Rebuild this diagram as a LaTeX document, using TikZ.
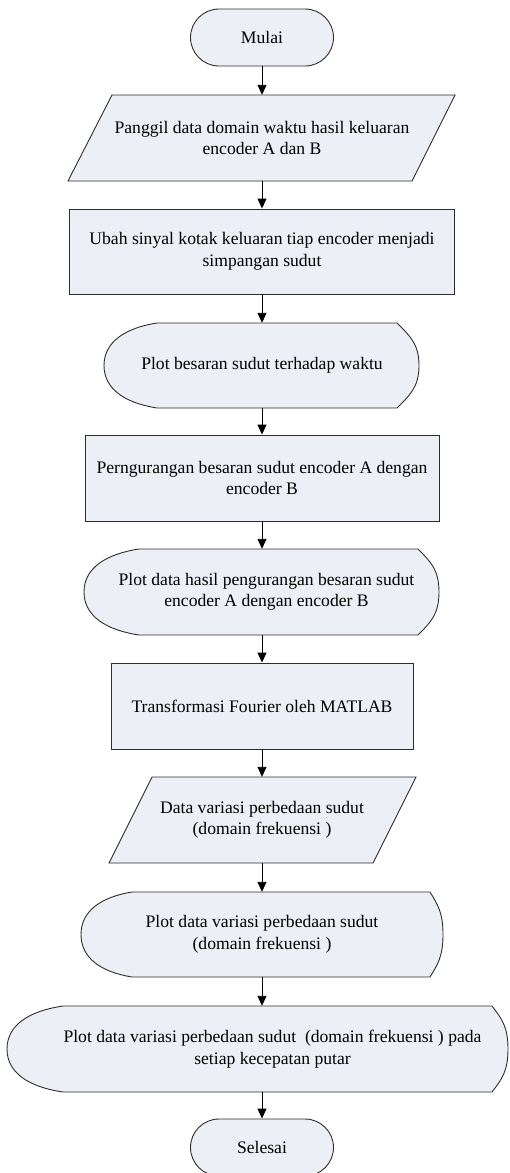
\documentclass[tikz,border=0pt]{standalone}
\usepackage{fontspec}
\setmainfont{Liberation Serif}
\usetikzlibrary{arrows.meta,shapes.misc}
\definecolor{shapefill}{RGB}{236,239,245}
\definecolor{shapeline}{RGB}{45,45,45}
\begin{document}
\begin{tikzpicture}[x=1pt,y=-1pt,
  outline/.style={draw=shapeline,fill=shapefill,line width=0.9pt,line join=miter},
  box/.style={draw=none,inner sep=0pt,align=center,font=\fontsize{17.6}{21.5}\selectfont},
  procbox/.style={box,outline,rectangle},
  termbox/.style={box,outline,rounded rectangle},
  flow/.style={draw=black,line width=0.9pt,-{Triangle[length=10pt,width=9pt]}}]
\useasboundingbox (0,0) rectangle (509,1173);

% outlines drawn directly
\draw[outline] (112,95) -- (455,95) -- (412,181) -- (68,181) -- cycle;
\draw[outline] (157,323) -- (397,323) .. controls (410,336) and (419,344) .. (419,365.5)
  .. controls (419,387) and (410,395) .. (397,408) -- (157,408)
  .. controls (125,403) and (104,389) .. (104,365.5)
  .. controls (104,342) and (125,328) .. (157,323) -- cycle;
\draw[outline] (139,549) -- (418,549) .. controls (431,562) and (439,570) .. (439,592)
  .. controls (439,614) and (431,622) .. (418,635) -- (139,635)
  .. controls (106,630) and (84,616) .. (84,592)
  .. controls (84,568) and (106,554) .. (139,549) -- cycle;
\draw[outline] (152,777) -- (416,777) -- (373,863) -- (109,863) -- cycle;
\draw[outline] (132,892) -- (430,892) .. controls (438,905) and (443,913) .. (443,934.5)
  .. controls (443,956) and (438,964) .. (430,977) -- (132,977)
  .. controls (101,972) and (81,958) .. (81,934.5)
  .. controls (81,911) and (101,897) .. (132,892) -- cycle;
\draw[outline] (63,1006) -- (492,1006) .. controls (502,1019) and (508,1027) .. (508,1049)
  .. controls (508,1071) and (502,1079) .. (492,1092) -- (63,1092)
  .. controls (29,1087) and (7,1073) .. (7,1049)
  .. controls (7,1025) and (29,1011) .. (63,1006) -- cycle;

% nodes
\node[termbox,minimum width=143pt,minimum height=57pt] (start) at (262,37.5) {Mulai};
\node[box,minimum width=300pt,minimum height=86pt] (p1) at (262,138)
  {Panggil data domain waktu hasil keluaran\\encoder A dan B};
\node[procbox,minimum width=385pt,minimum height=85pt] (r2) at (262,251.5)
  {Ubah sinyal kotak keluaran tiap encoder menjadi\\simpangan sudut};
\node[box,minimum width=300pt,minimum height=85pt] (d1) at (262,365.5)
  {Plot besaran sudut terhadap waktu};
\node[procbox,minimum width=354pt,minimum height=86pt] (r3) at (262,478)
  {Perngurangan besaran sudut encoder A dengan\\encoder B};
\node[box,minimum width=320pt,minimum height=86pt] (d2) at (262,592)
  {\hspace*{9pt}Plot data hasil pengurangan besaran sudut\\\hspace*{9pt}encoder A dengan encoder B};
\node[procbox,minimum width=302pt,minimum height=86pt] (r4) at (262,706)
  {Transformasi Fourier oleh MATLAB};
\node[box,minimum width=240pt,minimum height=86pt] (p2) at (262,820)
  {Data variasi perbedaan sudut\\(domain frekuensi )};
\node[box,minimum width=300pt,minimum height=85pt] (d3) at (262,934.5)
  {Plot data variasi perbedaan sudut\\(domain frekuensi )};
\node[box,minimum width=460pt,minimum height=86pt] (d4) at (262,1049)
  {\hspace*{21pt}Plot data variasi perbedaan sudut\ \ (domain frekuensi ) pada\\\hspace*{21pt}setiap kecepatan putar};
\node[termbox,minimum width=143pt,minimum height=57pt] (stop) at (262,1147.5) {Selesai};

% connectors
\draw[flow] (start.south) -- (p1.north);
\draw[flow] (p1.south) -- (r2.north);
\draw[flow] (r2.south) -- (d1.north);
\draw[flow] (d1.south) -- (r3.north);
\draw[flow] (r3.south) -- (d2.north);
\draw[flow] (d2.south) -- (r4.north);
\draw[flow] (r4.south) -- (p2.north);
\draw[flow] (p2.south) -- (d3.north);
\draw[flow] (d3.south) -- (d4.north);
\draw[flow] (d4.south) -- (stop.north);
\end{tikzpicture}
\end{document}
